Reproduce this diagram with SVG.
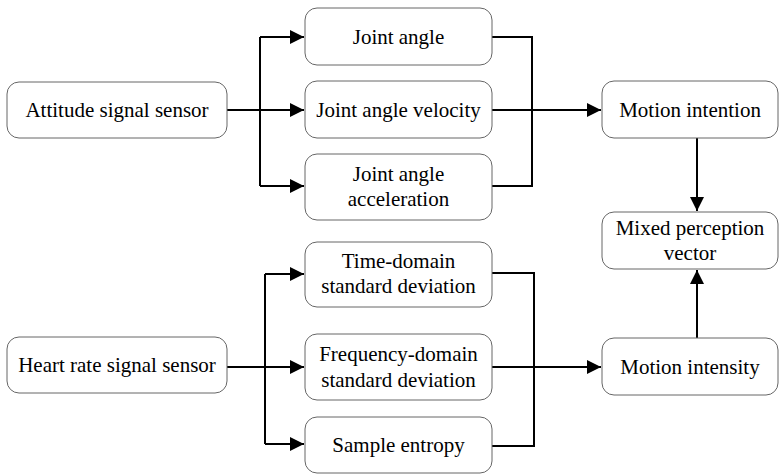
<svg xmlns="http://www.w3.org/2000/svg" width="781" height="475" viewBox="0 0 781 475">
<style>
.box{fill:#fff;stroke:#666;stroke-width:1}
.t{font-size:21px;fill:#000;text-anchor:middle;dominant-baseline:central}
.c{fill:none;stroke:#000;stroke-width:2}
</style>
<defs>
<marker id="ah" viewBox="0 0 10 10" refX="10" refY="5" markerWidth="17" markerHeight="14" markerUnits="userSpaceOnUse" orient="auto">
<path d="M0,0 L10,5 L0,10 z" fill="#000"/>
</marker>
</defs>
<rect width="781" height="475" fill="#fff"/>
<g id="connectors">
<path class="c" d="M227,110 H260 M260,37 V186"/>
<path class="c" d="M260,37 H304" marker-end="url(#ah)"/>
<path class="c" d="M260,110 H304" marker-end="url(#ah)"/>
<path class="c" d="M260,186 H304" marker-end="url(#ah)"/>
<path class="c" d="M492,37 H532 V186 H492"/>
<path class="c" d="M492,110 H601" marker-end="url(#ah)"/>
<path class="c" d="M697,138 V211" marker-end="url(#ah)"/>
<path class="c" d="M227,367 H265 M265,274 V444"/>
<path class="c" d="M265,274 H304" marker-end="url(#ah)"/>
<path class="c" d="M265,367 H304" marker-end="url(#ah)"/>
<path class="c" d="M265,444 H304" marker-end="url(#ah)"/>
<path class="c" d="M492,273 H534 V446 H492"/>
<path class="c" d="M492,367 H601" marker-end="url(#ah)"/>
<path class="c" d="M697,338 V270" marker-end="url(#ah)"/>
</g>
<g font-family="Liberation Serif, Times New Roman, serif">
<g id="attitude"><rect class="box" x="7" y="82" width="220" height="56" rx="12"/><text class="t" x="117" y="110">Attitude signal sensor</text></g>
<g id="joint-angle"><rect class="box" x="305" y="8" width="187" height="57" rx="12"/><text class="t" x="398.5" y="36.5">Joint angle</text></g>
<g id="joint-velocity"><rect class="box" x="305" y="81" width="187" height="57" rx="12"/><text class="t" x="398.5" y="109.5">Joint angle velocity</text></g>
<g id="joint-accel"><rect class="box" x="305" y="154" width="187" height="66" rx="12"/><text class="t" x="398.5" y="174">Joint angle</text><text class="t" x="398.5" y="199">acceleration</text></g>
<g id="motion-intention"><rect class="box" x="602" y="81" width="176" height="57" rx="12"/><text class="t" x="690" y="109.5">Motion intention</text></g>
<g id="mixed"><rect class="box" x="602" y="212" width="176" height="57" rx="12"/><text class="t" x="690" y="228">Mixed perception</text><text class="t" x="690" y="253">vector</text></g>
<g id="heart"><rect class="box" x="7" y="337" width="220" height="56" rx="12"/><text class="t" x="117" y="365">Heart rate signal sensor</text></g>
<g id="time-domain"><rect class="box" x="305" y="242" width="187" height="65" rx="12"/><text class="t" x="398.5" y="261">Time-domain</text><text class="t" x="398.5" y="286">standard deviation</text></g>
<g id="freq-domain"><rect class="box" x="305" y="334" width="187" height="66" rx="12"/><text class="t" x="398.5" y="354">Frequency-domain</text><text class="t" x="398.5" y="380">standard deviation</text></g>
<g id="sample-entropy"><rect class="box" x="305" y="417" width="187" height="56" rx="12"/><text class="t" x="398.5" y="445">Sample entropy</text></g>
<g id="motion-intensity"><rect class="box" x="602" y="338" width="176" height="57" rx="12"/><text class="t" x="690" y="366.5">Motion intensity</text></g>
</g>
</svg>
